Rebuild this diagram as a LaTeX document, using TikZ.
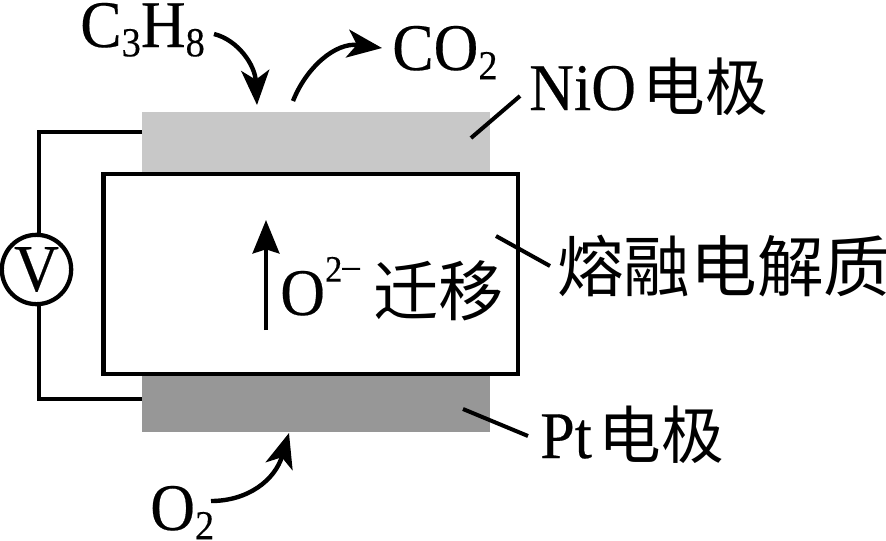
\documentclass[tikz,border=0pt]{standalone}
\usepackage{fontspec}
\setmainfont[FakeStretch=0.93,FakeBold=0.3]{Liberation Serif}
\newfontfamily\cjk{Noto Sans CJK SC}
\usetikzlibrary{arrows.meta}
\definecolor{niogray}{RGB}{200,200,200}
\definecolor{ptgray}{RGB}{151,151,151}
\newcommand{\chem}[1]{\raisebox{-7pt}{\fontsize{31}{31}\selectfont #1}}
\newcommand{\han}[1]{{\fontsize{47}{47}\selectfont\cjk #1}}
\tikzset{
  lbl/.style={inner sep=0pt,anchor=base west,font=\fontsize{50}{50}\selectfont},
  wire/.style={line width=3pt,black},
  curvearrow/.style={line width=3.3pt,black,-{Stealth[length=26pt,width=21pt,inset=7pt]}},
  leader/.style={line width=3pt,black},
}
\begin{document}
\begin{tikzpicture}[x=0.75pt,y=0.75pt,yscale=-1,xscale=1]
\useasboundingbox (0,0) rectangle (886,540);

% electrodes
\fill [niogray] (142,112) rectangle (490,174);
\fill [ptgray] (142,374) rectangle (490,432);
% electrolyte
\node (melt) [draw,line width=3.2pt,minimum width=311pt,minimum height=150pt,inner sep=0pt] at (310.75,274) {};

% voltmeter
\node (meter) [circle,draw,line width=3.2pt,fill=white,minimum size=52pt,inner sep=0pt,font=\fontsize{50}{50}\selectfont] at (36.5,269.5) {V};
\coordinate (topend) at (142,132);
\coordinate (botend) at (142,399);
\coordinate (topcorner) at (39,132);
\coordinate (botcorner) at (39,399);
\draw [wire] (topend) -- (topcorner) -- (topcorner |- meter.north);
\draw [wire] (botend) -- (botcorner) -- (botcorner |- meter.south);

% Text Node
\node (c3h8) [lbl] at (80,47) {C\chem{3}H\chem{8}};
\node (co2) [lbl] at (392,70) {CO\chem{2}};
\node (o2) [lbl] at (150,530) {O\chem{2}};
\node (nio) [lbl] at (529,110) {NiO\hspace{5pt}\han{电极}};
\node (pt) [lbl] at (540,458) {Pt\hspace{5pt}\han{电极}};
\node (salt) [lbl] at (557,291) {{\fontsize{50}{50}\selectfont\cjk 熔融电解质}};
\node (ion) [lbl] at (280,315) {O\raisebox{25pt}{\fontsize{28}{28}\selectfont 2\raisebox{3pt}{–}}\hspace{10pt}{\fontsize{49}{49}\selectfont\cjk 迁移}};

% reaction arrows
\coordinate (c3h8tail) at (214,34);
\coordinate (intop) at (257,105);
\coordinate (outtop) at (293,101);
\coordinate (co2head) at (382,48);
\coordinate (o2tail) at (211,501);
\coordinate (inbot) at (289,433);
\coordinate (iontail) at (266,330);
\coordinate (ionhead) at (266,220);
\draw [curvearrow] (c3h8tail) .. controls (238,40) and (255,65) .. (intop);
\draw [curvearrow] (outtop) .. controls (306,68) and (335,42) .. (co2head);
\draw [curvearrow] (o2tail) .. controls (248,501) and (275,480) .. (inbot);
\draw [line width=3.2pt,-{Stealth[length=25pt,width=20pt,inset=3pt]}] (iontail) -- (ionhead);

% leader lines
\coordinate (niotick) at (471,138);
\coordinate (nioend) at (520,96);
\coordinate (melttick) at (496,236);
\coordinate (meltend) at (550,266);
\coordinate (pttick) at (463,409);
\coordinate (ptend) at (528,436);
\draw [leader] (niotick) -- (nioend);
\draw [leader] (melttick) -- (meltend);
\draw [leader] (pttick) -- (ptend);

\end{tikzpicture}
\end{document}
